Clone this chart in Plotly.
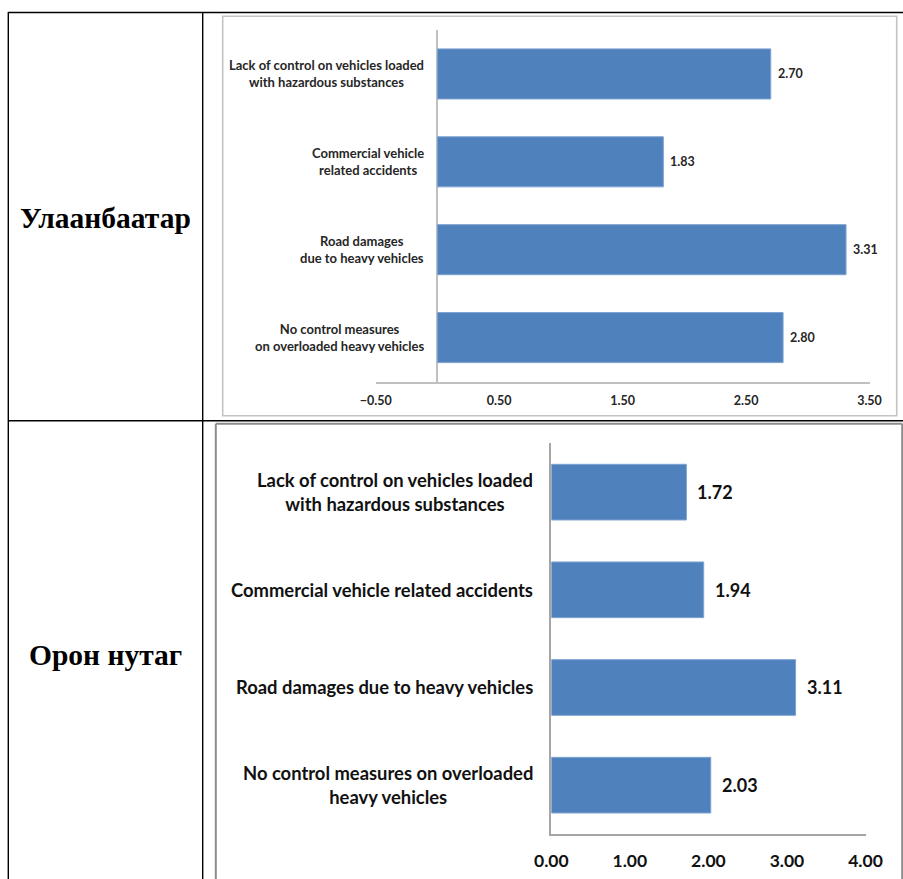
import plotly.graph_objects as go

# ---- data -------------------------------------------------------------
regions = ["Улаанбаатар", "Орон нутаг"]

ub_categories = [
    "Lack of control on vehicles loaded<br>with hazardous substances",
    "Commercial vehicle<br>related accidents",
    "Road damages<br>due to heavy vehicles",
    "No control measures<br>on overloaded heavy vehicles",
]
ub_values = [2.70, 1.83, 3.31, 2.80]
ub_ticks = [-0.50, 0.50, 1.50, 2.50, 3.50]

rural_categories = [
    "Lack of control on vehicles loaded<br>with hazardous substances",
    "Commercial vehicle related accidents",
    "Road damages due to heavy vehicles",
    "No control measures on overloaded<br>heavy vehicles",
]
rural_values = [1.72, 1.94, 3.11, 2.03]
rural_ticks = [0.00, 1.00, 2.00, 3.00, 4.00]

# ---- page geometry (pixels -> paper fractions) -------------------------
W, H = 903, 879


def px(x):
    return x / W


def py(y):
    return 1 - y / H


BAR = "#4F81BD"
BAR_EDGE = "#7FA3D1"
FONT = "Lato"
TXT = "#262626"

fig = go.Figure()

fig.add_trace(go.Bar(
    x=ub_values, y=ub_categories, orientation="h",
    xaxis="x", yaxis="y",
    marker=dict(color=BAR, line=dict(color=BAR_EDGE, width=1)),
    hoverinfo="skip", showlegend=False,
))
fig.add_trace(go.Bar(
    x=rural_values, y=rural_categories, orientation="h",
    xaxis="x2", yaxis="y2",
    marker=dict(color=BAR, line=dict(color=BAR_EDGE, width=1)),
    hoverinfo="skip", showlegend=False,
))

annotations = []

# category labels (centred lines, right-aligned block)
for cat in ub_categories:
    annotations.append(dict(
        x=px(426), xref="paper", xanchor="right",
        y=cat, yref="y", yanchor="middle",
        text=cat, align="center", showarrow=False,
        font=dict(family=FONT, size=13, color=TXT, weight="bold"),
    ))
for cat in rural_categories:
    annotations.append(dict(
        x=px(535), xref="paper", xanchor="right",
        y=cat, yref="y2", yanchor="middle",
        text=cat, align="center", showarrow=False,
        font=dict(family=FONT, size=18.4, color="#111111", weight="bold"),
    ))

# value labels beside each bar
for cat, v in zip(ub_categories, ub_values):
    annotations.append(dict(
        x=v, xref="x", xanchor="left", xshift=5,
        y=cat, yref="y", yanchor="middle",
        text=f"{v:.2f}", showarrow=False,
        font=dict(family=FONT, size=12.5, color=TXT, weight="bold"),
    ))
for cat, v in zip(rural_categories, rural_values):
    annotations.append(dict(
        x=v, xref="x2", xanchor="left", xshift=9,
        y=cat, yref="y2", yanchor="middle",
        text=f"{v:.2f}", showarrow=False,
        font=dict(family=FONT, size=18, color="#111111", weight="bold"),
    ))

# row headers of the table
for name, yc in zip(regions, [218, 655]):
    annotations.append(dict(
        x=px(105.5), xref="paper", xanchor="center",
        y=py(yc), yref="paper", yanchor="middle",
        text=name, showarrow=False,
        font=dict(family="Liberation Serif", size=29.5, color="black", weight="bold"),
    ))

shapes = []
# table rules
line_k = dict(color="black", width=1.4)
shapes += [
    dict(type="line", xref="paper", yref="paper", x0=px(8), x1=1, y0=py(12.5), y1=py(12.5), line=line_k),
    dict(type="line", xref="paper", yref="paper", x0=px(8), x1=1, y0=py(420.7), y1=py(420.7), line=line_k),
    dict(type="line", xref="paper", yref="paper", x0=px(8.3), x1=px(8.3), y0=py(12), y1=0, line=line_k),
    dict(type="line", xref="paper", yref="paper", x0=px(202.7), x1=px(202.7), y0=py(12), y1=0, line=line_k),
]
# chart frames
shapes += [
    dict(type="rect", xref="paper", yref="paper", x0=px(222.7), x1=px(896.7), y0=py(415.7), y1=py(16.3),
         line=dict(color="#c4c4c4", width=1.6)),
    dict(type="line", xref="paper", yref="paper", x0=px(215.8), x1=px(215.8), y0=0, y1=py(423.8),
         line=dict(color="#8c8c8c", width=2)),
    dict(type="line", xref="paper", yref="paper", x0=px(215.8), x1=px(902.2), y0=py(423.8), y1=py(423.8),
         line=dict(color="#8c8c8c", width=2)),
    dict(type="line", xref="paper", yref="paper", x0=px(902.2), x1=px(902.2), y0=0, y1=py(423.8),
         line=dict(color="#8c8c8c", width=2)),
]

fig.update_layout(
    template="none",
    width=W, height=H,
    autosize=False,
    margin=dict(l=0, r=0, t=0, b=0, pad=0),
    paper_bgcolor="white", plot_bgcolor="rgba(0,0,0,0)",
    bargap=0.43,
    showlegend=False,
    annotations=annotations,
    shapes=shapes,
    xaxis=dict(
        domain=[px(375.7), px(869.5)], anchor="y", automargin=False,
        range=[ub_ticks[0], ub_ticks[-1]],
        tickvals=ub_ticks, tickformat=".2f",
        showgrid=False, showline=True, linecolor="#c0c0c0", linewidth=1.5,
        zeroline=True, zerolinecolor="#c0c0c0", zerolinewidth=1.5,
        ticks="", ticklabelstandoff=7,
        tickfont=dict(family=FONT, size=12.5, color=TXT, weight="bold"),
    ),
    yaxis=dict(
        domain=[py(381.5), py(30)], anchor="x", automargin=False,
        categoryorder="array", categoryarray=ub_categories,
        autorange="reversed",
        showgrid=False, showline=False, zeroline=False, showticklabels=False, ticks="",
    ),
    xaxis2=dict(
        domain=[px(551.3), px(865.5)], anchor="y2", automargin=False,
        range=[rural_ticks[0], rural_ticks[-1]],
        tickvals=rural_ticks, tickformat=".2f",
        showgrid=False, showline=True, linecolor="#a6a6a6", linewidth=1.5,
        zeroline=False,
        ticks="", ticklabelstandoff=10,
        tickfont=dict(family=FONT, size=17.5, color="#111111", weight="bold"),
    ),
    yaxis2=dict(
        domain=[py(834), py(443.3)], anchor="x2", automargin=False,
        categoryorder="array", categoryarray=rural_categories,
        autorange="reversed",
        showgrid=False, showline=True, linecolor="#a6a6a6", linewidth=1.5,
        zeroline=False, showticklabels=False, ticks="",
    ),
)

fig.write_html("out.html")
